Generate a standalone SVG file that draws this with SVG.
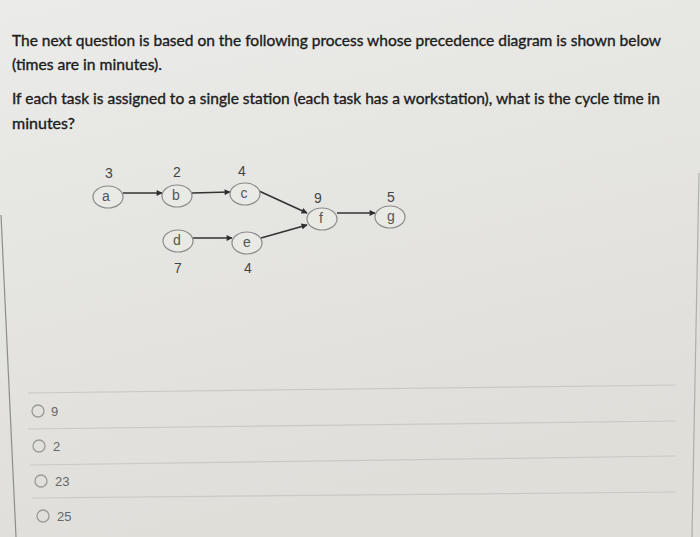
<svg xmlns="http://www.w3.org/2000/svg" width="700" height="537" viewBox="0 0 700 537">
<defs>
<linearGradient id="bg" x1="0" y1="0" x2="0.3" y2="1">
<stop offset="0" stop-color="#ebebe9"/>
<stop offset="1" stop-color="#dfded9"/>
</linearGradient>
<marker id="arr" viewBox="0 0 10 10" refX="9" refY="5" markerWidth="7" markerHeight="6" orient="auto" markerUnits="userSpaceOnUse">
<path d="M0,0 L10,5 L0,10 z" fill="#2e2e2e"/>
</marker>
<style>
.q{font-family:Lato,"Open Sans","Liberation Sans",sans-serif;font-size:15px;fill:#1c1c1c;stroke:#1c1c1c;stroke-width:0.35}
.node ellipse{fill:#e9e9e6;stroke:#8a8a8a;stroke-width:1.2}
.lbl{font-family:"Liberation Sans",Arial,sans-serif;font-size:14px;fill:#555;text-anchor:middle}
.num{font-family:"Liberation Sans",Arial,sans-serif;font-size:14px;fill:#444;text-anchor:middle}
.edge{stroke:#333;stroke-width:1.6;fill:none;marker-end:url(#arr)}
.sep{stroke:#c9c9c6;stroke-width:1.2}
.radio{fill:none;stroke:#9a9a98;stroke-width:1.3}
.opt{font-family:"Liberation Sans",Arial,sans-serif;font-size:13px;fill:#666}
.border{stroke:#8d8d8a;stroke-width:1.2}
</style>
</defs>
<rect width="700" height="537" fill="url(#bg)"/>
<line class="border" x1="1" y1="215" x2="16" y2="537"/>
<line class="border" x1="699" y1="173" x2="692" y2="537" stroke-opacity="0.6"/>

<g id="question">
<text class="q" x="12" y="46" textLength="649" lengthAdjust="spacingAndGlyphs">The next question is based on the following process whose precedence diagram is shown below</text>
<text class="q" x="12" y="70" textLength="150" lengthAdjust="spacingAndGlyphs">(times are in minutes).</text>
<text class="q" x="12" y="104" textLength="648" lengthAdjust="spacingAndGlyphs">If each task is assigned to a single station (each task has a workstation), what is the cycle time in</text>
<text class="q" x="12" y="129" textLength="63" lengthAdjust="spacingAndGlyphs">minutes?</text>
</g>

<g id="connectors">
<line class="edge" x1="123" y1="193" x2="162" y2="193"/>
<line class="edge" x1="192" y1="193" x2="230" y2="192"/>
<line class="edge" x1="259" y1="191" x2="307" y2="213"/>
<line class="edge" x1="261" y1="238" x2="307" y2="225"/>
<line class="edge" x1="193" y1="238" x2="232" y2="238"/>
<line class="edge" x1="337" y1="213" x2="375" y2="213"/>
</g>

<g id="node-a" class="node"><ellipse cx="108" cy="197" rx="15" ry="11"/><text class="lbl" x="106" y="201">a</text><text class="num" x="109" y="178">3</text></g>
<g id="node-b" class="node"><ellipse cx="177" cy="196" rx="15" ry="11"/><text class="lbl" x="176" y="200">b</text><text class="num" x="177" y="177">2</text></g>
<g id="node-c" class="node"><ellipse cx="245" cy="194" rx="15" ry="11"/><text class="lbl" x="244" y="198">c</text><text class="num" x="242" y="176">4</text></g>
<g id="node-f" class="node"><ellipse cx="322" cy="219" rx="15" ry="11"/><text class="lbl" x="321" y="223">f</text><text class="num" x="318" y="203">9</text></g>
<g id="node-g" class="node"><ellipse cx="390" cy="217" rx="15" ry="11"/><text class="lbl" x="391" y="221">g</text><text class="num" x="391" y="202">5</text></g>
<g id="node-d" class="node"><ellipse cx="178" cy="241" rx="15" ry="11"/><text class="lbl" x="177" y="245">d</text><text class="num" x="178" y="273">7</text></g>
<g id="node-e" class="node"><ellipse cx="247" cy="243" rx="15" ry="11"/><text class="lbl" x="247" y="247">e</text><text class="num" x="248" y="273">4</text></g>

<g id="options">
<line class="sep" x1="28" y1="393" x2="676" y2="385"/>
<line class="sep" x1="28" y1="429" x2="676" y2="421"/>
<line class="sep" x1="30" y1="465" x2="676" y2="456"/>
<line class="sep" x1="32" y1="498" x2="676" y2="492"/>
<circle class="radio" cx="38" cy="411" r="6"/><text class="opt" x="51" y="416">9</text>
<circle class="radio" cx="39" cy="446" r="6"/><text class="opt" x="53" y="451">2</text>
<circle class="radio" cx="41" cy="481" r="6"/><text class="opt" x="55" y="486">23</text>
<circle class="radio" cx="43" cy="516" r="6"/><text class="opt" x="57" y="521">25</text>
</g>
</svg>
